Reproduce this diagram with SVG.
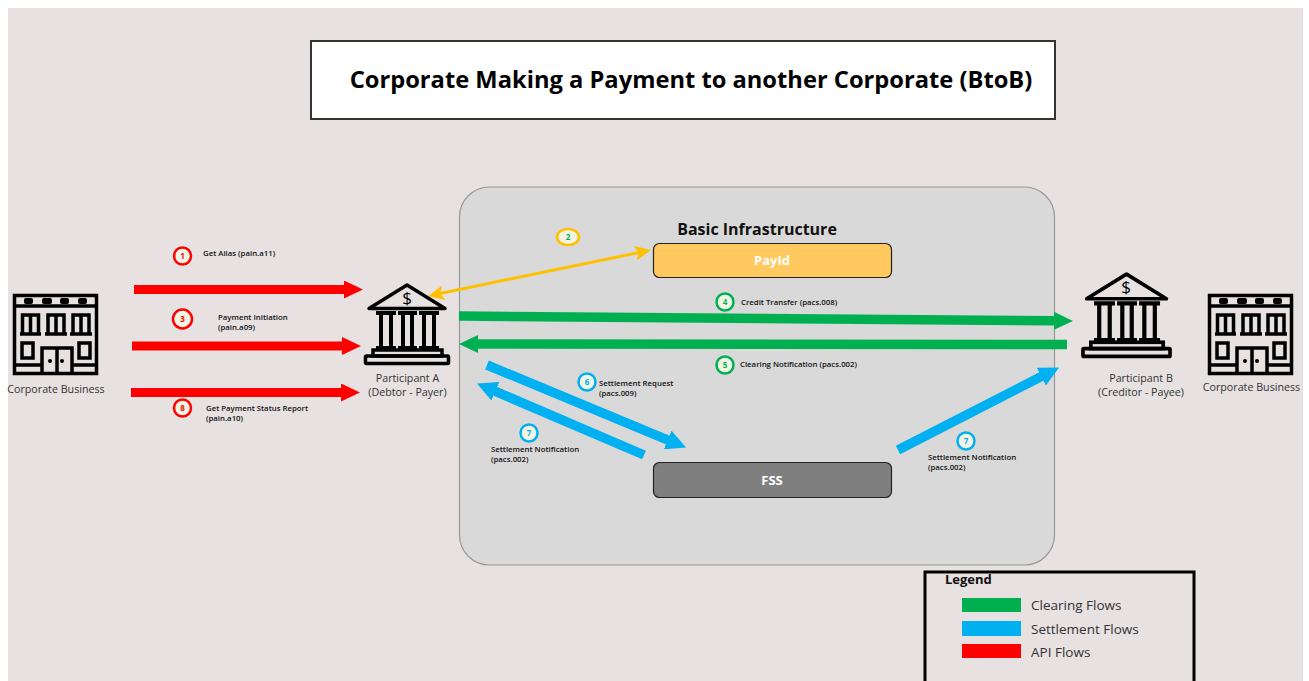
<svg xmlns="http://www.w3.org/2000/svg" width="1309" height="681" viewBox="0 0 1309 681">
<style>
text{font-family:"Open Sans","Noto Sans","Liberation Sans",sans-serif;fill:#111}
.s{font-size:7.800px;font-weight:600}
.n{font-size:8px;font-weight:700;text-anchor:middle}
.l{font-size:10.700px;fill:#333;text-anchor:middle}
.lg{font-size:13.500px;fill:#333}
.ic{fill:none;stroke:#000;stroke-width:3.500}
.bk{stroke-width:4}
.sb{fill:#000;stroke:none}
.c{fill:#f2f5e6;stroke-width:2.500}
</style>
<defs>
<marker id="mr" viewBox="0 0 19 18" refX="1" refY="9" markerWidth="19" markerHeight="18" markerUnits="userSpaceOnUse" orient="auto"><path d="M0 0L19 9L0 18z" fill="#f00"/></marker>
<marker id="mg" viewBox="0 0 19 18" refX="1" refY="9" markerWidth="19" markerHeight="18" markerUnits="userSpaceOnUse" orient="auto"><path d="M0 0L19 9L0 18z" fill="#00b050"/></marker>
<marker id="mb" viewBox="0 0 20 20" refX="1" refY="10" markerWidth="20" markerHeight="20" markerUnits="userSpaceOnUse" orient="auto"><path d="M0 0L20 10L0 20z" fill="#00b0f0"/></marker>
<marker id="my" viewBox="0 0 16 15" refX="4" refY="7.500" markerWidth="16" markerHeight="15" markerUnits="userSpaceOnUse" orient="auto-start-reverse"><path d="M0 0L16 7.500L0 15L4 7.500z" fill="#ffc000"/></marker>
<symbol id="corp" viewBox="0 0 85 81" overflow="visible">
<rect class="ic" x="1.500" y="1.500" width="82" height="78"/>
<path class="ic" d="M2 12H83M2 71H29M59 71H83"/>
<rect class="sb" x="11" y="4" width="9" height="6" rx="2"/><rect class="sb" x="29" y="4" width="10" height="6" rx="2"/><rect class="sb" x="47" y="4" width="9" height="6" rx="2"/><rect class="sb" x="65" y="4" width="9" height="6" rx="2"/>
<path class="ic" d="M9.500 40V21H25.500V40M17.500 21V40M7 40H28M35 40V21H51V40M43 21V40M32 40H54M60 40V21H76V40M68 21V40M57 40H79"/>
<rect class="ic" x="9" y="49" width="11" height="15"/><rect class="ic" x="66" y="49" width="11" height="15"/>
<path class="ic" d="M29 80V54H59V80M44 54V80"/>
<circle class="sb" cx="37" cy="67" r="2"/><circle class="sb" cx="49" cy="67" r="2"/>
</symbol>
<symbol id="bank" viewBox="0 0 86 82" overflow="visible">
<path class="ic" d="M5 25.500L43 2L81 25.500z" stroke-linejoin="round"/>
<path class="ic bk" d="M12 30H32M34 30H53M55 30H75M17 30V65M27 30V65M39 30V65M48 30V65M60 30V65M70 30V65M12 65H32M34 65H53M55 65H75"/>
<rect class="ic" x="9" y="67" width="69" height="6"/>
<rect class="ic" x="1.500" y="73" width="83" height="7.500" rx="1"/>
</symbol>
</defs>
<rect width="1309" height="681" fill="#fff"/>
<rect x="8" y="8" width="1295" height="673" fill="#e7e1e1"/>
<g id="title"><rect x="311" y="41" width="744" height="78" fill="#fff" stroke="#333" stroke-width="2"/>
<text x="691" y="88" font-size="23.700" font-weight="700" text-anchor="middle" style="fill:#000">Corporate Making a Payment to another Corporate (BtoB)</text></g>
<g id="infra"><rect x="459.500" y="187" width="595" height="378" rx="30" fill="#d9d9d9" stroke="#999" stroke-width="1.200"/>
<text x="757" y="235" font-size="16" font-weight="700" text-anchor="middle">Basic Infrastructure</text></g>
<g id="payid"><rect x="653.500" y="243.500" width="238" height="34" rx="6" fill="#ffc95f" stroke="#222" stroke-width="1.200"/><text x="772" y="265" font-size="13" font-weight="700" text-anchor="middle" style="fill:#fff">PayId</text></g>
<g id="fss"><rect x="653.500" y="462.500" width="238" height="35" rx="6" fill="#7f7f7f" stroke="#222" stroke-width="1.200"/><text x="772" y="485" font-size="13" font-weight="700" text-anchor="middle" style="fill:#fff">FSS</text></g>
<g id="connectors" fill="none">
<path d="M134 289.500H345" stroke="#f00" stroke-width="9" marker-end="url(#mr)"/>
<path d="M132 346H343" stroke="#f00" stroke-width="9" marker-end="url(#mr)"/>
<path d="M131 392.500H342" stroke="#f00" stroke-width="9" marker-end="url(#mr)"/>
<path d="M440 293.500L639 252.500" stroke="#ffc000" stroke-width="3" marker-start="url(#my)" marker-end="url(#my)"/>
<path d="M459 316L1055 320.800" stroke="#00b050" stroke-width="9.500" marker-end="url(#mg)"/>
<path d="M1067 344.500L477 344" stroke="#00b050" stroke-width="9.500" marker-end="url(#mg)"/>
<path d="M487 365L668.600 440.300" stroke="#00b0f0" stroke-width="9.500" marker-end="url(#mb)"/>
<path d="M644 455L494.400 390.900" stroke="#00b0f0" stroke-width="9.500" marker-end="url(#mb)"/>
<path d="M898 450L1042.200 376.100" stroke="#00b0f0" stroke-width="9.500" marker-end="url(#mb)"/>
</g>
<g id="corp-a"><use href="#corp" x="13" y="294" width="85" height="81"/><text class="l" x="56" y="393">Corporate Business</text></g>
<g id="corp-b"><use href="#corp" x="1208" y="294" width="85" height="81"/><text class="l" x="1251.500" y="391">Corporate Business</text></g>
<g id="bank-a"><use href="#bank" x="364" y="283" width="86" height="82"/><text x="407" y="304" font-size="17" text-anchor="middle" style="fill:#000">$</text><text class="l" x="407.500" y="382">Participant A</text><text class="l" x="407.500" y="395.500">(Debtor - Payer)</text></g>
<g id="bank-b"><use href="#bank" x="1081" y="272" width="91" height="86"/><text x="1126" y="293" font-size="17" text-anchor="middle" style="fill:#000">$</text><text class="l" x="1141" y="382">Participant B</text><text class="l" x="1141" y="396">(Creditor - Payee)</text></g>
<g id="step1"><circle class="c" cx="182.500" cy="256" r="8.500" stroke="#f00"/><text class="n" x="182.500" y="259" style="fill:#f00">1</text><text class="s" x="203" y="256">Get Alias (pain.a11)</text></g>
<g id="step3"><circle class="c" cx="182.500" cy="319" r="9.500" stroke="#f00"/><text class="n" x="182.500" y="322" style="fill:#f00">3</text><text class="s" x="218" y="320">Payment Initiation</text><text class="s" x="218" y="330">(pain.a09)</text></g>
<g id="step8"><circle class="c" cx="182.500" cy="408" r="8.500" stroke="#f00"/><text class="n" x="182.500" y="411" style="fill:#f00">8</text><text class="s" x="206" y="411">Get Payment Status Report</text><text class="s" x="206" y="421">(pain.a10)</text></g>
<g id="step2"><ellipse class="c" cx="568" cy="237" rx="11" ry="8" stroke="#ffc000"/><text class="n" x="568" y="240" style="fill:#00b050">2</text></g>
<g id="step4"><circle class="c" cx="725" cy="302" r="8.500" stroke="#00b050"/><text class="n" x="725" y="305" style="fill:#00b050">4</text><text class="s" x="741" y="305">Credit Transfer (pacs.008)</text></g>
<g id="step5"><circle class="c" cx="725" cy="365" r="8.500" stroke="#00b050"/><text class="n" x="725" y="368" style="fill:#00b050">5</text><text class="s" x="740" y="367">Clearing Notification (pacs.002)</text></g>
<g id="step6"><circle class="c" cx="587" cy="382" r="8.500" stroke="#00b0f0"/><text class="n" x="587" y="385" style="fill:#00b0f0">6</text><text class="s" x="599" y="386">Settlement Request</text><text class="s" x="599" y="396">(pacs.009)</text></g>
<g id="step7a"><circle class="c" cx="529" cy="433" r="8.500" stroke="#00b0f0"/><text class="n" x="529" y="436" style="fill:#00b0f0">7</text><text class="s" x="491" y="452">Settlement Notification</text><text class="s" x="491" y="462">(pacs.002)</text></g>
<g id="step7b"><circle class="c" cx="966" cy="441" r="8.500" stroke="#00b0f0"/><text class="n" x="966" y="444" style="fill:#00b0f0">7</text><text class="s" x="928" y="460">Settlement Notification</text><text class="s" x="928" y="470">(pacs.002)</text></g>
<g id="legend"><path d="M925 681V572H1194V681" fill="none" stroke="#000" stroke-width="3"/>
<text x="945" y="584" font-size="13" font-weight="700">Legend</text>
<rect x="962" y="598" width="59" height="14" fill="#00b050"/><text class="lg" x="1031" y="610">Clearing Flows</text>
<rect x="962" y="621" width="59" height="15" fill="#00b0f0"/><text class="lg" x="1031" y="634">Settlement Flows</text>
<rect x="962" y="644" width="59" height="14" fill="#f00"/><text class="lg" x="1031" y="657">API Flows</text></g>
</svg>
